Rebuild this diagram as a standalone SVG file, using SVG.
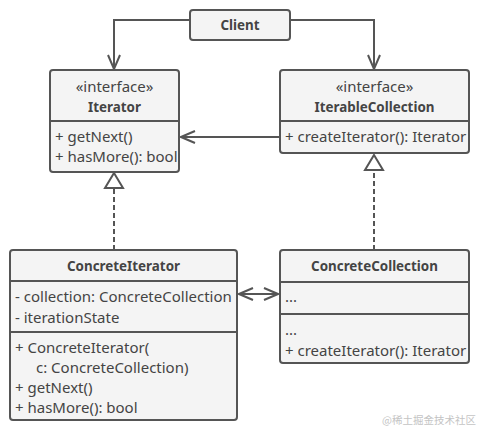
<svg xmlns="http://www.w3.org/2000/svg" width="480" height="430" viewBox="0 0 480 430">
<style>
.box{fill:#f4f4f4;stroke:#555;stroke-width:2}
.div{stroke:#555;stroke-width:2}
.ln{fill:none;stroke:#555;stroke-width:2}
.dash{fill:none;stroke:#555;stroke-width:2;stroke-dasharray:5,3}
.tri{fill:#fff;stroke:#555;stroke-width:2}
text{font-family:"Noto Sans","Liberation Sans",sans-serif;font-size:15px;fill:#444}
.b{font-weight:bold;font-size:13.4px}
.c{text-anchor:middle}
.wm{font-family:"Noto Sans CJK SC",sans-serif;font-size:10.5px;fill:#c4c4c4;text-anchor:end}
</style>
<defs>
<marker id="open" viewBox="0 0 16 14" refX="15" refY="7" markerWidth="16" markerHeight="14" markerUnits="userSpaceOnUse" orient="auto-start-reverse">
<path d="M1,1 L15,7 L1,13" fill="none" stroke="#555" stroke-width="2"/>
</marker>
</defs>
<g id="connectors">
<path class="ln" d="M190,20 H114 V69" marker-end="url(#open)"/>
<path class="ln" d="M290,20 H374 V69" marker-end="url(#open)"/>
<path class="ln" d="M280,137 H181" marker-end="url(#open)"/>
<path class="ln" d="M239,294 H278" marker-start="url(#open)" marker-end="url(#open)"/>
<path class="dash" d="M114,250 V188"/>
<path class="tri" d="M114,173 L123,188 L105,188 Z"/>
<path class="dash" d="M374,250 V170"/>
<path class="tri" d="M374,155 L383,170 L365,170 Z"/>
</g>
<g id="client">
<rect class="box" x="190" y="10" width="100" height="30" rx="3"/>
<text class="b c" x="240" y="30">Client</text>
</g>
<g id="iterator">
<rect class="box" x="50" y="70" width="129" height="102" rx="3"/>
<line class="div" x1="50" y1="121" x2="179" y2="121"/>
<text class="c" x="114.5" y="92">«interface»</text>
<text class="b c" x="114.5" y="112">Iterator</text>
<text x="55" y="142">+ getNext()</text>
<text x="55" y="162">+ hasMore(): bool</text>
</g>
<g id="iterableCollection">
<rect class="box" x="280" y="70" width="189" height="83" rx="3"/>
<line class="div" x1="280" y1="121" x2="469" y2="121"/>
<text class="c" x="374.5" y="92">«interface»</text>
<text class="b c" x="374.5" y="112">IterableCollection</text>
<text x="285" y="142">+ createIterator(): Iterator</text>
</g>
<g id="concreteIterator">
<rect class="box" x="10" y="250" width="227" height="170" rx="3"/>
<line class="div" x1="10" y1="281" x2="237" y2="281"/>
<line class="div" x1="10" y1="332" x2="237" y2="332"/>
<text class="b c" x="123.5" y="271">ConcreteIterator</text>
<text x="15" y="302">- collection: ConcreteCollection</text>
<text x="15" y="323">- iterationState</text>
<text x="15" y="353">+ ConcreteIterator(</text>
<text x="36" y="373">c: ConcreteCollection)</text>
<text x="15" y="393">+ getNext()</text>
<text x="15" y="413">+ hasMore(): bool</text>
</g>
<g id="concreteCollection">
<rect class="box" x="280" y="250" width="189" height="113" rx="3"/>
<line class="div" x1="280" y1="282" x2="469" y2="282"/>
<line class="div" x1="280" y1="314" x2="469" y2="314"/>
<text class="b c" x="374.5" y="271">ConcreteCollection</text>
<text x="285" y="302">...</text>
<text x="285" y="335">...</text>
<text x="285" y="356">+ createIterator(): Iterator</text>
</g>
<text class="wm" x="476" y="424">@稀土掘金技术社区</text>
</svg>
